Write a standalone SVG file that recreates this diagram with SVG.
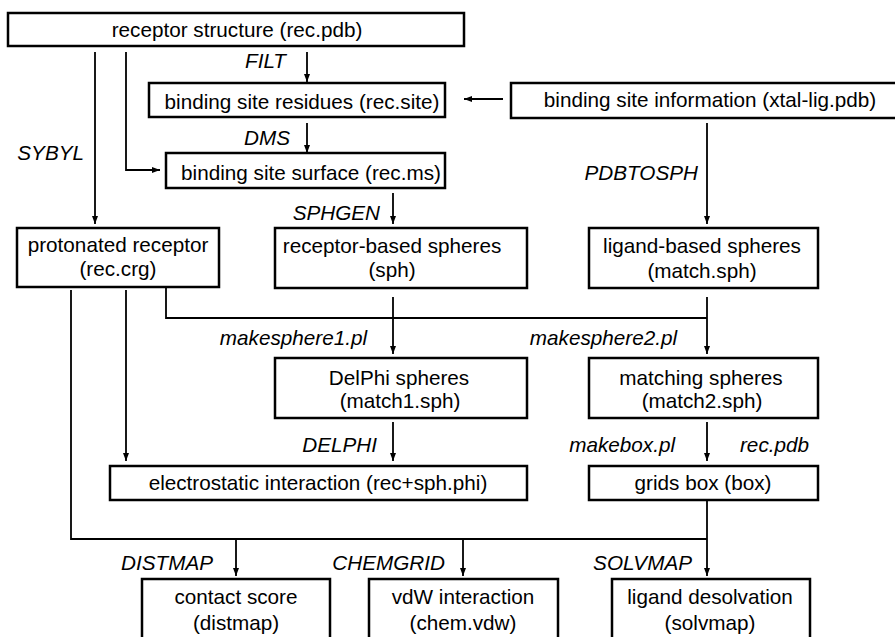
<svg xmlns="http://www.w3.org/2000/svg" width="895" height="637" viewBox="0 0 895 637">
<style>
.box{fill:#fff;stroke:#000;stroke-width:2.5}
.t{font-family:"Liberation Sans",Arial,sans-serif;font-size:20.7px;fill:#000;text-anchor:middle}
.l{font-family:"Liberation Sans",Arial,sans-serif;font-size:20.7px;font-style:italic;fill:#000;text-anchor:end}
.c{fill:none;stroke:#000;stroke-width:1.8}
</style>
<defs>
<marker id="ah" viewBox="0 0 8 6" refX="8" refY="3" markerWidth="8" markerHeight="6" markerUnits="userSpaceOnUse" orient="auto">
<path d="M0,0 L8,3 L0,6 z" fill="#000"/>
</marker>
</defs>
<rect width="895" height="637" fill="#fff"/>
<g id="connectors">
<path class="c" d="M95 52 V224" marker-end="url(#ah)"/>
<path class="c" d="M126 52 V170 H160" marker-end="url(#ah)"/>
<path class="c" d="M307 52 V82" marker-end="url(#ah)"/>
<path class="c" d="M503 99 H464" marker-end="url(#ah)"/>
<path class="c" d="M307 123 V153" marker-end="url(#ah)"/>
<path class="c" d="M393 193 V224" marker-end="url(#ah)"/>
<path class="c" d="M707 123 V224" marker-end="url(#ah)"/>
<path class="c" d="M393 297 V354" marker-end="url(#ah)"/>
<path class="c" d="M166 288 V318 H707"/>
<path class="c" d="M707 297 V354" marker-end="url(#ah)"/>
<path class="c" d="M393 422 V461" marker-end="url(#ah)"/>
<path class="c" d="M126 290 V461" marker-end="url(#ah)"/>
<path class="c" d="M707 422 V461" marker-end="url(#ah)"/>
<path class="c" d="M71 290 V539 H707"/>
<path class="c" d="M707 501 V576" marker-end="url(#ah)"/>
<path class="c" d="M236 539 V576" marker-end="url(#ah)"/>
<path class="c" d="M463 539 V576" marker-end="url(#ah)"/>
</g>
<g id="labels">
<text class="l" x="286" y="68">FILT</text>
<text class="l" x="290" y="145">DMS</text>
<text class="l" x="84" y="160">SYBYL</text>
<text class="l" x="698" y="180">PDBTOSPH</text>
<text class="l" x="380" y="220">SPHGEN</text>
<text class="l" x="367" y="345">makesphere1.pl</text>
<text class="l" x="677" y="345">makesphere2.pl</text>
<text class="l" x="377" y="452">DELPHI</text>
<text class="l" x="675" y="452">makebox.pl</text>
<text class="l" x="809" y="452">rec.pdb</text>
<text class="l" x="213" y="570">DISTMAP</text>
<text class="l" x="445" y="570">CHEMGRID</text>
<text class="l" x="692" y="570">SOLVMAP</text>
</g>
<g id="receptor-structure">
<rect class="box" x="8" y="13" width="456" height="33"/>
<text class="t" x="237" y="37">receptor structure (rec.pdb)</text>
</g>
<g id="binding-site-residues">
<rect class="box" x="149" y="83" width="296" height="34"/>
<text class="t" x="302" y="109">binding site residues (rec.site)</text>
</g>
<g id="binding-site-information">
<rect class="box" x="511" y="83" width="398" height="35"/>
<text class="t" x="710" y="107">binding site information (xtal-lig.pdb)</text>
</g>
<g id="binding-site-surface">
<rect class="box" x="166" y="153" width="279" height="35"/>
<text class="t" x="311" y="180">binding site surface (rec.ms)</text>
</g>
<g id="protonated-receptor">
<rect class="box" x="17" y="228" width="202" height="59"/>
<text class="t" x="118" y="252">protonated receptor</text>
<text class="t" x="118" y="276">(rec.crg)</text>
</g>
<g id="receptor-based-spheres">
<rect class="box" x="275" y="228" width="252" height="60"/>
<text class="t" x="392" y="253">receptor-based spheres</text>
<text class="t" x="392" y="277">(sph)</text>
</g>
<g id="ligand-based-spheres">
<rect class="box" x="589" y="228" width="229" height="60"/>
<text class="t" x="702" y="253">ligand-based spheres</text>
<text class="t" x="702" y="278">(match.sph)</text>
</g>
<g id="delphi-spheres">
<rect class="box" x="275" y="358" width="252" height="60"/>
<text class="t" x="399" y="385">DelPhi spheres</text>
<text class="t" x="400" y="408">(match1.sph)</text>
</g>
<g id="matching-spheres">
<rect class="box" x="589" y="358" width="229" height="60"/>
<text class="t" x="701" y="385">matching spheres</text>
<text class="t" x="702" y="408">(match2.sph)</text>
</g>
<g id="electrostatic-interaction">
<rect class="box" x="110" y="466" width="417" height="34"/>
<text class="t" x="318" y="490">electrostatic interaction (rec+sph.phi)</text>
</g>
<g id="grids-box">
<rect class="box" x="589" y="466" width="229" height="34"/>
<text class="t" x="703" y="490">grids box (box)</text>
</g>
<g id="contact-score">
<rect class="box" x="142" y="579" width="188" height="66"/>
<text class="t" x="236" y="604">contact score</text>
<text class="t" x="236" y="630">(distmap)</text>
</g>
<g id="vdw-interaction">
<rect class="box" x="369" y="579" width="189" height="66"/>
<text class="t" x="463" y="604">vdW interaction</text>
<text class="t" x="463" y="630">(chem.vdw)</text>
</g>
<g id="ligand-desolvation">
<rect class="box" x="612" y="579" width="198" height="66"/>
<text class="t" x="710" y="604">ligand desolvation</text>
<text class="t" x="710" y="630">(solvmap)</text>
</g>
</svg>
